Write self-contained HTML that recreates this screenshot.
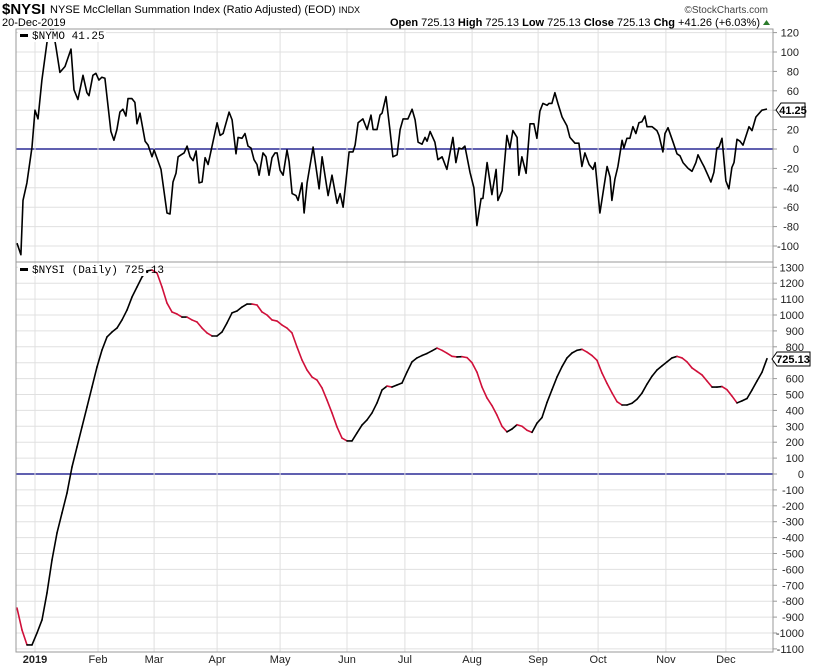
<!DOCTYPE html>
<html><head><meta charset="utf-8"><style>
body{margin:0;background:#fff;width:820px;height:668px;overflow:hidden;font-family:"Liberation Sans",sans-serif}
svg{display:block}
</style></head><body>
<svg id="chart" width="820" height="668" xmlns="http://www.w3.org/2000/svg" font-family="Liberation Sans, sans-serif">
<text x="2" y="14" font-size="15" font-weight="bold">$NYSI</text>
<text x="50" y="13" font-size="11">NYSE McClellan Summation Index (Ratio Adjusted) (EOD) <tspan font-size="9">INDX</tspan></text>
<text x="768" y="13" font-size="10" fill="#444" text-anchor="end">©StockCharts.com</text>
<text x="2" y="26" font-size="11">20-Dec-2019</text>
<text x="760" y="26" font-size="11" text-anchor="end"><tspan font-weight="bold">Open</tspan> 725.13 <tspan font-weight="bold">High</tspan> 725.13 <tspan font-weight="bold">Low</tspan> 725.13 <tspan font-weight="bold">Close</tspan> 725.13 <tspan font-weight="bold">Chg</tspan> +41.26 (+6.03%)</text>
<path d="M763,25 L766.5,20 L770,25 Z" fill="#2a7a2a"/>
<defs>
<clipPath id="c1"><rect x="16" y="29" width="757" height="233"/></clipPath>
<clipPath id="c2"><rect x="16" y="262" width="757" height="390"/></clipPath>
</defs>
<g id="grid"></g>
<g id="series"></g>
<rect x="16" y="29" width="757" height="233" fill="none" stroke="#999"/>
<rect x="16" y="262" width="757" height="390" fill="none" stroke="#999"/>
<g id="axes"></g>
<g><rect x="18" y="30" width="88" height="12" fill="#fff"/><rect x="20" y="34" width="8" height="3" fill="#000"/><text x="32" y="39" font-size="11" font-family="Liberation Mono, monospace">$NYMO 41.25</text></g>
<g><rect x="18" y="264" width="128" height="12" fill="#fff"/><rect x="20" y="268" width="8" height="3" fill="#000"/><text x="32" y="273" font-size="11" font-family="Liberation Mono, monospace">$NYSI (Daily) 725.13</text></g>
<g><path d="M776,110 L781,103 L805,103 L805,117 L781,117 Z" fill="#fff" stroke="#000"/><text x="793" y="114" font-size="11" font-weight="bold" text-anchor="middle">41.25</text></g>
<g><path d="M772,359 L777,352 L810,352 L810,366 L777,366 Z" fill="#fff" stroke="#000"/><text x="793" y="363" font-size="11" font-weight="bold" text-anchor="middle">725.13</text></g>
</svg>
<script>
const monthDays=[6,27,45.7,66.7,87.7,110,129.3,151.7,173.7,193.7,216.3,236.3];
const monthLabels=["2019","Feb","Mar","Apr","May","Jun","Jul","Aug","Sep","Oct","Nov","Dec"];
const nymoTicks=[120,100,80,60,40,20,0,-20,-40,-60,-80,-100];
const nysiTicks=[1300,1200,1100,1000,900,800,700,600,500,400,300,200,100,0,-100,-200,-300,-400,-500,-600,-700,-800,-900,-1000,-1100];
const nymoDay=[0,1.3,2,3.3,5,6,7,8.3,10,11.7,13,14.3,16,18,19,20.3,22,23.3,24,25.3,26.3,27.3,28.3,29.3,31.3,32.3,33.3,34.3,35.3,36.3,37,38.3,39.3,40,41,42.7,43.7,45,45.7,48,50,51,52,53,53.7,54.7,55.7,56.7,57.7,58.7,59.7,60.7,61.7,62.7,63.7,65.3,66.7,67.7,68.7,70.7,71.7,73,73.7,75,76,77,78,79,80,80.7,82,83,84,85,86,86.7,87.7,88.7,90,90.7,91.7,93,93.7,95,95.7,96.7,98.7,100.7,101.7,103.7,105,106.7,107.7,108.7,110.7,112,112.7,113.7,115.3,116.7,118,118.7,120,121,121.7,123,124.3,125.3,126.7,127.7,128.7,130.3,131.7,132.7,133.7,135,136,136.7,137.7,139.3,140.3,141.7,143.3,145.3,146.3,147.3,148.3,149.3,151,152.3,153.3,154.7,155.3,156.7,158.3,159.7,160.3,161.7,163.3,164.3,165.3,166.7,167.3,168.3,169.7,171,172.3,173.3,174.3,175.3,176.7,177.3,178.3,179.3,180.3,181.7,183.3,184.3,186,187.3,188.3,189.3,190.7,192,192.7,194.3,196.7,197.7,198.3,199.3,200.3,201.7,202.3,203.3,204.3,205.3,206.3,207.3,208.3,209.3,210,211.7,213.3,214,215.3,216,217,218.7,220,221,222,223.7,225,226.3,227,228.3,229,230.3,231.3,232.3,233.3,234,235,236.3,237.3,238.3,239,240,241,242,244,245,246.3,248.3,250];
const nymoValues=[-97,-109,-53,-35,2,40,31,71,110,128,105,79,85,103,61,51,76,58,55,76,78,71,74,73,18,9,20,38,41,34,52,52,48,26,37,8,4,-8,-1,-21,-66,-67,-34,-25,-8,-6,-4,3,-8,-12,-2,-35,-34,-9,-16,7,27,14,16,38,30,-5,12,11,16,3,1,-11,-16,-27,-4,-8,-27,-9,-4,-4,-22,-27,-1,-13,-46,-48,-53,-35,-66,-35,2,-41,-8,-48,-27,-56,-46,-60,-3,-3,4,27,31,20,35,20,20,35,37,54,20,-8,-6,20,31,31,41,30,7,5,12,8,18,7,-11,-8,-21,12,-14,1,0,3,-24,-40,-79,-51,-51,-14,-47,-21,-53,-43,14,1,19,12,-27,-8,-25,26,26,11,39,47,45,47,47,58,47,33,24,12,6,6,-18,-4,-16,-21,-14,-66,-18,-29,-53,-31,-18,9,1,11,11,23,16,27,28,34,23,23,19,14,-3,16,22,7,-5,-7,-14,-20,-23,-14,-6,-14,-18,-27,-34,-24,1,2,11,-33,-41,-19,-14,10,8,4,23,19,33,40,41.25];
const nysiValues=[-843,-981,-1075,-1075,-1000,-918,-748,-541,-371,-245,-120,44,170,296,421,547,673,780,862,893,918,969,1031,1113,1176,1239,1277,1283,1264,1176,1075,1019,1006,987,987,969,956,918,887,868,868,893,950,1013,1025,1050,1069,1069,1063,1019,1000,969,962,937,918,887,799,717,654,610,591,541,465,384,296,226,208,208,258,308,340,384,447,528,553,547,560,572,641,705,730,745,758,775,792,778,760,740,736,738,732,700,640,547,478,430,370,300,265,283,310,300,275,262,320,355,450,530,610,675,730,761,778,784,767,745,715,635,570,510,455,434,434,445,470,509,565,615,654,680,705,730,740,730,705,667,645,623,585,547,547,550,530,490,447,460,475,528,585,640,725.13];
const nysiStep=5/3;
const NS="http://www.w3.org/2000/svg";
const xs=d=>17+d*3;
const yTop=v=>149-v*0.97;
const yBot=v=>474-v*0.159;
const grid=document.getElementById('grid'),series=document.getElementById('series'),axes=document.getElementById('axes');
function mk(tag,attrs,parent){const e=document.createElementNS(NS,tag);for(const k in attrs)e.setAttribute(k,attrs[k]);parent.appendChild(e);return e;}
nymoTicks.forEach(t=>{
  const l=mk('line',{x1:16,x2:773,y1:yTop(t),y2:yTop(t),stroke:t===0?'#000080':'#e0e0e0','stroke-width':t===0?1.2:1},grid);
  
  
  const tx=mk('text',{x:799,y:yTop(t)+4,'font-size':11,'text-anchor':'end',fill:'#222'},axes);
  tx.textContent=t;
  
  
  mk('line',{x1:773,x2:777,y1:yTop(t),y2:yTop(t),stroke:'#999'},axes);
});
nysiTicks.forEach(t=>{
  const l=mk('line',{x1:16,x2:773,y1:yBot(t),y2:yBot(t),stroke:t===0?'#000080':'#e0e0e0','stroke-width':t===0?1.2:1},grid);
  
  
  const tx=mk('text',{x:804,y:yBot(t)+4,'font-size':11,'text-anchor':'end',fill:'#222'},axes);
  tx.textContent=t;
  
  
  mk('line',{x1:773,x2:777,y1:yBot(t),y2:yBot(t),stroke:'#999'},axes);
});
monthDays.forEach((d,i)=>{
  const l=mk('line',{x1:xs(d),x2:xs(d),y1:29,y2:652,stroke:'#e0e0e0'},grid);
  
  
  const tx=mk('text',{x:xs(d),y:663,'font-size':11,'text-anchor':'middle','font-weight':i===0?'bold':'normal',fill:'#222'},axes);
  tx.textContent=monthLabels[i];
  
  
});
const g1=mk('g',{'clip-path':'url(#c1)'},series);
const nymoPts=nymoValues.map((v,i)=>xs(nymoDay[i]).toFixed(1)+','+yTop(v).toFixed(1)).join(' ');
const nymoLine=mk('polyline',{points:nymoPts,fill:'none',stroke:'#000','stroke-width':1.6,'stroke-linejoin':'round'},g1);


const g2=mk('g',{'clip-path':'url(#c2)'},series);


for(let i=1;i<nysiValues.length;i++){
  const s=mk('line',{x1:xs((i-1)*nysiStep),y1:yBot(nysiValues[i-1]),x2:xs(i*nysiStep),y2:yBot(nysiValues[i]),stroke:nysiValues[i]<nysiValues[i-1]?'#d0103a':'#000','stroke-width':1.6,'stroke-linecap':'round'},g2);
  
  
}
</script>
</body></html>
